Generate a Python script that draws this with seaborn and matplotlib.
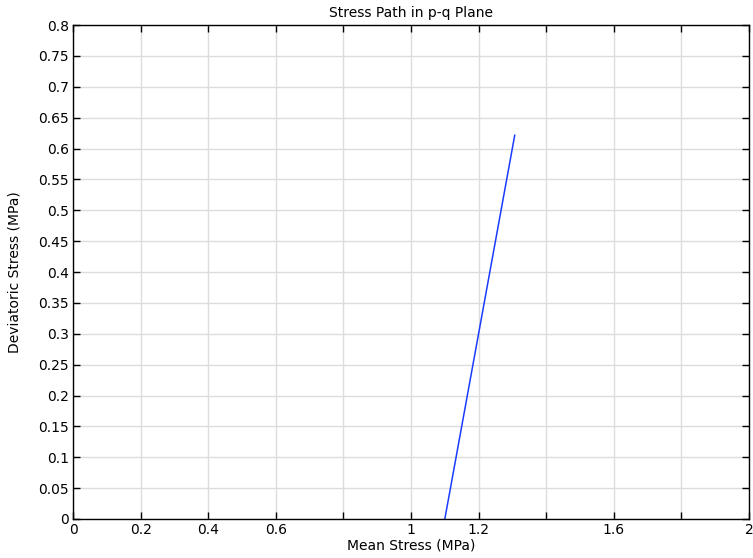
import matplotlib
matplotlib.use("Agg")
import matplotlib.pyplot as plt
import seaborn as sns
import pandas as pd

p_mean = [1.1, 1.307]
q_dev = [0.0, 0.622]
x_ticks = [0, 0.2, 0.4, 0.6, 0.8, 1.0, 1.2, 1.4, 1.6, 1.8, 2.0]
x_labels = ["0", "0.2", "0.4", "0.6", "", "1", "1.2", "", "1.6", "", "2"]
y_ticks = [round(0.05 * i, 2) for i in range(17)]
y_labels = ["0", "0.05", "0.1", "0.15", "0.2", "0.25", "0.3", "0.35", "0.4", "0.45",
            "0.5", "0.55", "0.6", "0.65", "0.7", "0.75", "0.8"]

sns.set_style("white")
plt.rcParams['font.family'] = ['DejaVu Sans']
plt.rcParams['text.color'] = 'black'
plt.rcParams['axes.labelcolor'] = 'black'

df = pd.DataFrame({"p": p_mean, "q": q_dev})
fig = plt.figure(figsize=(7.53, 5.58), dpi=100)
ax = fig.add_axes([0.097, 0.0699, 0.8977, 0.8852])
sns.lineplot(data=df, x="p", y="q", ax=ax, color="#1a3cff", linewidth=1.1, sort=False)

ax.set_xlim(0, 2)
ax.set_ylim(0, 0.8)
ax.set_xticks(x_ticks)
ax.set_xticklabels(x_labels)
ax.set_yticks(y_ticks)
ax.set_yticklabels(y_labels)
ax.grid(True, color="#dcdcdc", linewidth=1)
ax.set_axisbelow(True)
ax.tick_params(direction="in", length=5, width=1, colors="black", labelsize=10,
               top=True, right=True, bottom=True, left=True, pad=3)
for s in ax.spines.values():
    s.set_color("black")
    s.set_linewidth(1)
ax.set_xlabel("Mean Stress (MPa)", fontsize=10, labelpad=1, color="black")
ax.set_ylabel("Deviatoric Stress (MPa)", fontsize=10, labelpad=12, color="black")
ax.set_title("Stress Path in p-q Plane", fontsize=10, pad=6, color="black")
fig.savefig("out.png", dpi=100)
